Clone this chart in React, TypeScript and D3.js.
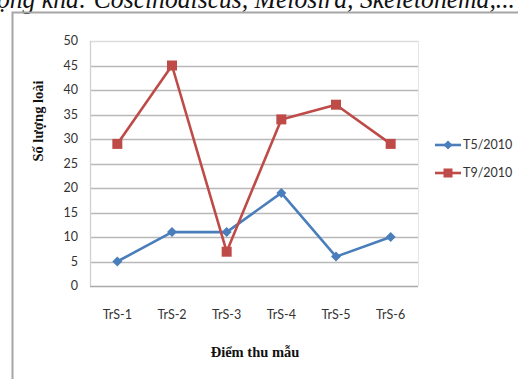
import React from "react";
import * as d3 from "d3";

const categories = ["TrS-1", "TrS-2", "TrS-3", "TrS-4", "TrS-5", "TrS-6"];
const t5Values = [5, 11, 11, 19, 6, 10];
const t9Values = [29, 45, 7, 34, 37, 29];
const yTicks = [0, 5, 10, 15, 20, 25, 30, 35, 40, 45, 50];
const seriesNames = ["T5/2010", "T9/2010"];
const headerText = "ộng khá: Coscinodiscus, Melosira, Skeletonema,...";

const W = 518;
const H = 379;
const plot = { left: 90, right: 418, top: 41, bottom: 286 };
const BLUE = "#4a7ebb";
const RED = "#be4b48";
const TICK_FONT = "Lato, 'Liberation Sans', sans-serif";
const SERIF = "'Liberation Serif', 'DejaVu Serif', serif";

export default function App() {
  const x = d3.scaleBand<string>().domain(categories).range([plot.left, plot.right]);
  const y = d3.scaleLinear().domain([0, 50]).range([plot.bottom, plot.top]);
  const cx = (c: string) => (x(c) ?? 0) + x.bandwidth() / 2;
  const line = d3
    .line<number>()
    .x((_, i) => cx(categories[i]))
    .y((d) => y(d));

  const diamond = (px: number, py: number, r: number) =>
    `M${px},${py - r}L${px + r},${py}L${px},${py + r}L${px - r},${py}Z`;

  const legendY = [145, 173];

  return (
    <svg
      width={W}
      height={H}
      style={{ position: "fixed", left: 0, top: 0, background: "#fff" }}
    >
      <rect x={0} y={0} width={W} height={H} fill="#fff" />
      {/* header text (cut by the top edge, as in the source) */}
      <text
        x={-3}
        y={8}
        fontFamily={SERIF}
        fontStyle="italic"
        fontSize={27}
        textLength={518}
        lengthAdjust="spacingAndGlyphs"
        fill="#111"
      >
        {headerText}
      </text>
      {/* frame */}
      <path d={`M12.5,${H}V12.5H${W}`} fill="none" stroke="#a6a6a6" strokeWidth={2} />

      {/* gridlines */}
      {yTicks.map((t) => (
        <line
          key={t}
          x1={plot.left}
          x2={plot.right}
          y1={Math.round(y(t)) + 0.5}
          y2={Math.round(y(t)) + 0.5}
          stroke={t === 50 ? "#dcdcdc" : t === 0 ? "#a9a9a9" : "#b8b8b8"}
          strokeWidth={1.3}
        />
      ))}
      <line
        x1={plot.left + 0.5}
        x2={plot.left + 0.5}
        y1={plot.top}
        y2={plot.bottom}
        stroke="#d0d0d0"
        strokeWidth={1.3}
      />
      <line
        x1={plot.right + 0.5}
        x2={plot.right + 0.5}
        y1={plot.top}
        y2={plot.bottom}
        stroke="#e4e4e4"
        strokeWidth={1}
      />

      {/* y tick labels */}
      {yTicks.map((t) => (
        <text
          key={t}
          x={78}
          y={y(t)}
          dy="0.35em"
          textAnchor="end"
          fontFamily={TICK_FONT}
          fontSize={12.5}
          fill="#333"
        >
          {t}
        </text>
      ))}

      {/* x tick labels */}
      {categories.map((c) => (
        <text
          key={c}
          x={cx(c)}
          y={315}
          dy="0.35em"
          textAnchor="middle"
          fontFamily={TICK_FONT}
          fontSize={12.5}
          fill="#333"
        >
          {c}
        </text>
      ))}

      {/* axis titles */}
      <text
        x={255}
        y={352}
        dy="0.35em"
        textAnchor="middle"
        fontFamily={SERIF}
        fontWeight="bold"
        fontSize={14.5}
        fill="#111"
      >
        Điểm thu mẫu
      </text>
      <text
        transform={`translate(38,121) rotate(-90)`}
        dy="0.35em"
        textAnchor="middle"
        fontFamily={SERIF}
        fontWeight="bold"
        fontSize={14.5}
        fill="#111"
      >
        Số lượng loài
      </text>

      {/* series */}
      <path d={line(t5Values) ?? ""} fill="none" stroke={BLUE} strokeWidth={2.6} strokeLinejoin="round" />
      {t5Values.map((v, i) => (
        <path key={i} d={diamond(cx(categories[i]), y(v), 5)} fill={BLUE} />
      ))}
      <path d={line(t9Values) ?? ""} fill="none" stroke={RED} strokeWidth={2.6} strokeLinejoin="round" />
      {t9Values.map((v, i) => (
        <rect key={i} x={cx(categories[i]) - 5} y={y(v) - 5} width={10} height={10} fill={RED} />
      ))}

      {/* legend */}
      <line x1={435} x2={461} y1={legendY[0]} y2={legendY[0]} stroke={BLUE} strokeWidth={2.6} />
      <path d={diamond(448, legendY[0], 4.5)} fill={BLUE} />
      <text x={463} y={legendY[0]} dy="0.35em" fontFamily={TICK_FONT} fontSize={12.5} fill="#333">
        {seriesNames[0]}
      </text>
      <line x1={435} x2={461} y1={legendY[1]} y2={legendY[1]} stroke={RED} strokeWidth={2.6} />
      <rect x={443.5} y={legendY[1] - 4.5} width={9} height={9} fill={RED} />
      <text x={463} y={legendY[1]} dy="0.35em" fontFamily={TICK_FONT} fontSize={12.5} fill="#333">
        {seriesNames[1]}
      </text>
    </svg>
  );
}
